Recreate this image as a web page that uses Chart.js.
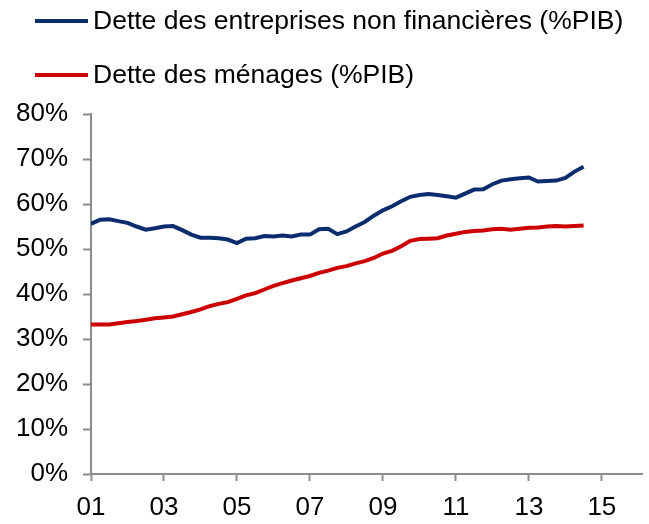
<!DOCTYPE html>
<html lang="fr">
<head>
    <meta charset="UTF-8">
    <title>Dette des entreprises et des ménages</title>
    <script src="https://cdn.jsdelivr.net/npm/chart.js@4.4.1/dist/chart.umd.min.js"></script>
    <style>
        body { margin: 0; background: #fff; }
    </style>
</head>
<body>
    <canvas id="detteChart" width="649" height="524"></canvas>

    <script>
        // trimestres 2001T1 .. 2014T3, en années décimales
        const quarters = [];
        for (let i = 0; i < 55; i++) quarters.push(2001 + i / 4);

        const detteEntreprises = [
            55.6, 56.5, 56.6, 56.2, 55.8, 55.0, 54.3, 54.6, 55.0, 55.1,
            54.2, 53.2, 52.5, 52.5, 52.4, 52.1, 51.3, 52.3, 52.4, 52.9,
            52.8, 53.0, 52.8, 53.2, 53.2, 54.4, 54.5, 53.3, 53.9, 55.0,
            56.0, 57.4, 58.6, 59.5, 60.6, 61.6, 62.0, 62.2, 62.0, 61.7,
            61.4, 62.3, 63.2, 63.3, 64.4, 65.2, 65.5, 65.7, 65.9, 65.0,
            65.1, 65.2, 65.8, 67.2, 68.3
        ];
        const detteMenages = [
            33.2, 33.2, 33.2, 33.5, 33.8, 34.0, 34.3, 34.6, 34.8, 35.0,
            35.5, 36.0, 36.6, 37.3, 37.8, 38.2, 38.9, 39.7, 40.2, 41.0,
            41.8, 42.4, 43.0, 43.5, 44.0, 44.7, 45.2, 45.8, 46.2, 46.8,
            47.3, 48.0, 49.0, 49.6, 50.6, 51.8, 52.2, 52.3, 52.4, 53.0,
            53.4, 53.8, 54.0, 54.1, 54.4, 54.5, 54.3, 54.5, 54.7, 54.8,
            55.0, 55.1, 55.0, 55.1, 55.2
        ];
        const xTickYears = [2001, 2003, 2005, 2007, 2009, 2011, 2013, 2015];
        const xTickLabels = ["01", "03", "05", "07", "09", "11", "13", "15"];
        const seriesNames = ["Dette des entreprises non financières (%PIB)", "Dette des ménages (%PIB)"];

        const FONT = "'Liberation Sans', Arial, sans-serif";
        const AXIS = "#8c8c8c";

        // légende dessinée à la main : trait + texte, un item par ligne
        const lineLegend = {
            id: "lineLegend",
            afterDraw(chart) {
                const ctx = chart.ctx;
                const rows = [21, 75];
                ctx.save();
                ctx.font = "26.5px " + FONT;
                ctx.textBaseline = "middle";
                ctx.textAlign = "left";
                chart.data.datasets.forEach((ds, i) => {
                    ctx.strokeStyle = ds.borderColor;
                    ctx.lineWidth = 4;
                    ctx.beginPath();
                    ctx.moveTo(35, rows[i]);
                    ctx.lineTo(88, rows[i]);
                    ctx.stroke();
                    ctx.fillStyle = "#000";
                    ctx.fillText(ds.label, 93, rows[i] + 1);
                });
                ctx.restore();
            }
        };

        new Chart(document.getElementById("detteChart"), {
            type: "line",
            data: {
                datasets: [{
                    label: seriesNames[0],
                    data: quarters.map((q, i) => ({ x: q, y: detteEntreprises[i] })),
                    borderColor: "#0b2d6e",
                    borderWidth: 4,
                    pointRadius: 0,
                    tension: 0
                }, {
                    label: seriesNames[1],
                    data: quarters.map((q, i) => ({ x: q, y: detteMenages[i] })),
                    borderColor: "#cc0000",
                    borderWidth: 4,
                    pointRadius: 0,
                    tension: 0
                }]
            },
            options: {
                responsive: false,
                animation: false,
                layout: { padding: { top: 114, left: 0, right: 7, bottom: 0 } },
                plugins: {
                    legend: { display: false },
                    tooltip: { enabled: false }
                },
                scales: {
                    x: {
                        type: "linear",
                        min: 2001,
                        max: 2016.1,
                        afterBuildTicks(scale) {
                            scale.ticks = xTickYears.map(v => ({ value: v }));
                        },
                        afterFit(scale) { scale.height = 50; },
                        ticks: {
                            callback: (v) => xTickLabels[xTickYears.indexOf(v)],
                            font: { family: FONT, size: 26 },
                            color: "#000",
                            padding: 11,
                            maxRotation: 0
                        },
                        grid: {
                            drawOnChartArea: false,
                            drawTicks: true,
                            tickLength: 7,
                            tickWidth: 2,
                            tickColor: AXIS
                        },
                        border: { color: AXIS, width: 2 }
                    },
                    y: {
                        min: 0,
                        max: 80,
                        afterFit(scale) { scale.width = 91; },
                        ticks: {
                            stepSize: 10,
                            callback: (v) => v + "%",
                            font: { family: FONT, size: 26 },
                            color: "#000",
                            padding: 15
                        },
                        grid: {
                            drawOnChartArea: false,
                            drawTicks: true,
                            tickLength: 8,
                            tickWidth: 2,
                            tickColor: AXIS
                        },
                        border: { color: AXIS, width: 2 }
                    }
                }
            },
            plugins: [lineLegend]
        });
    </script>
</body>
</html>
